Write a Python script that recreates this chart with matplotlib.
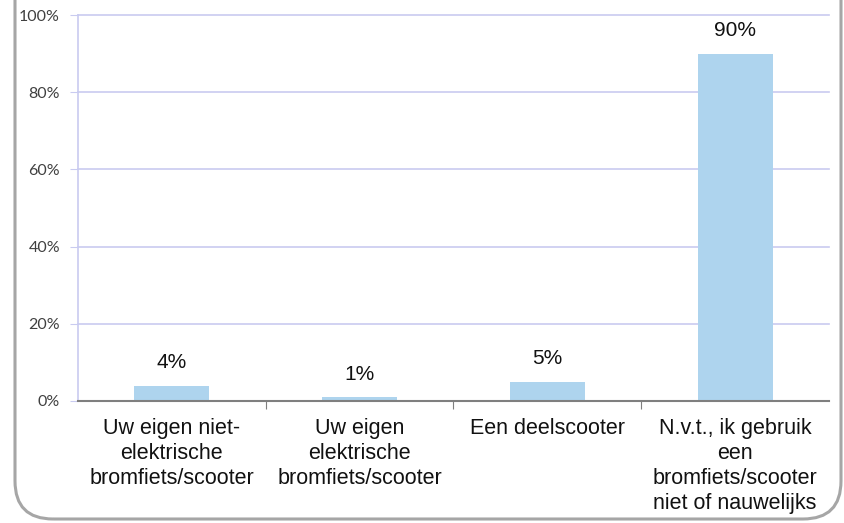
import matplotlib
matplotlib.use('Agg')
import matplotlib.pyplot as plt
from matplotlib.patches import FancyBboxPatch

categories = ['Uw eigen niet-\nelektrische\nbromfiets/scooter',
              'Uw eigen\nelektrische\nbromfiets/scooter',
              'Een deelscooter',
              'N.v.t., ik gebruik\neen\nbromfiets/scooter\nniet of nauwelijks']
values = [4, 1, 5, 90]
yticks = [0, 20, 40, 60, 80, 100]

fig = plt.figure(figsize=(8.45, 5.23), dpi=100)
ax = fig.add_axes([0.0923, 0.2333, 0.8887, 0.738])

# rounded frame around the chart (top runs off the picture)
frame = FancyBboxPatch((15/845, 4/523), (841-15)/845, 1.2, transform=fig.transFigure,
                       boxstyle='round,pad=0,rounding_size=0.045', fill=False,
                       edgecolor='#a6a6a6', linewidth=2.2, mutation_aspect=845/523,
                       clip_on=False)
fig.patches.append(frame)

x = range(len(values))
ax.bar(x, values, width=0.4, color='#aed4ee', zorder=2)
for i, v in zip(x, values):
    ax.annotate(f'{v}%', (i, v), xytext=(0, 16.5), textcoords='offset points',
                ha='center', va='center', fontsize=15, family='Liberation Sans',
                color='#111111')

ax.set_xlim(-0.5, 3.5)
ax.set_ylim(0, 100)
ax.set_yticks(yticks)
ax.set_yticklabels([f'{t}%' for t in yticks], family='Lato', fontsize=11.5, color='#404040')
ax.yaxis.grid(True, color='#c9cbf0', linewidth=1.2, zorder=0, clip_on=False)
ax.tick_params(axis='y', length=6, color='#c9cbf0', pad=7)

ax.set_xticks([0.5, 1.5, 2.5], minor=False)
ax.set_xticklabels([])
ax.set_xticks(list(x), minor=True)
ax.set_xticklabels(categories, minor=True, family='Liberation Sans', fontsize=15.5,
                   color='#111111', linespacing=1.25)
ax.tick_params(axis='x', which='minor', length=0, pad=12)
ax.tick_params(axis='x', which='major', length=6, color='#7f7f7f', direction='out')

for s in ['top', 'right']:
    ax.spines[s].set_visible(False)
ax.spines['left'].set_color('#c9cbf0')
ax.spines['left'].set_linewidth(1.2)
ax.spines['bottom'].set_color('#7f7f7f')
ax.spines['bottom'].set_linewidth(1.5)
ax.spines['bottom'].set_zorder(3)

fig.savefig('out.png', dpi=100)
